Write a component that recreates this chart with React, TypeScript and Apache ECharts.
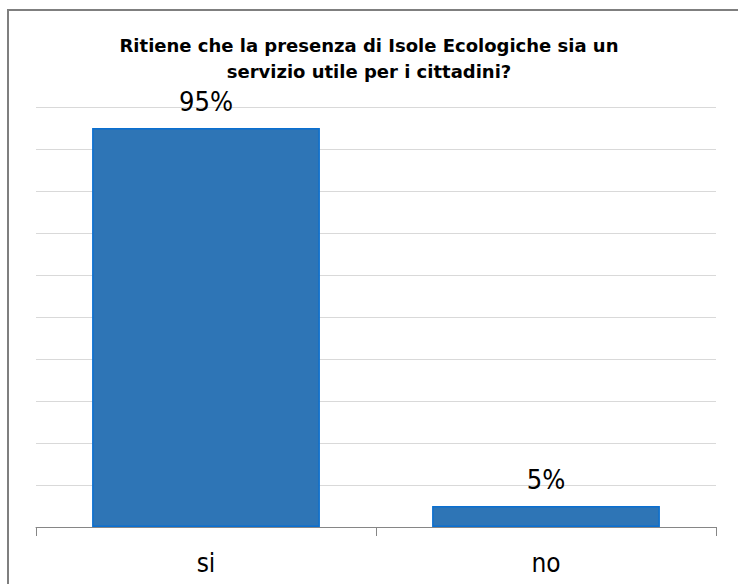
import React, { useEffect, useRef } from "react";
import * as echarts from "echarts";

const titleText = "Ritiene che la presenza di Isole Ecologiche sia un\nservizio utile per i cittadini?";
const categories = ["si", "no"];
const values = [95, 5];
const yMin = 0;
const yMax = 100;
const yInterval = 10;

export default function App() {
  const ref = useRef<HTMLDivElement>(null);
  useEffect(() => {
    if (!ref.current) return;
    const chart = echarts.init(ref.current, null, { renderer: "svg" });
    const font = "'DejaVu Sans Condensed', 'DejaVu Sans', sans-serif";
    chart.setOption({
      animation: false,
      backgroundColor: "#ffffff",
      title: {
        text: titleText,
        left: "center",
        top: 32,
        padding: 0,
        textStyle: {
          fontFamily: "'DejaVu Sans', sans-serif",
          fontWeight: "bold",
          fontSize: 18,
          lineHeight: 26,
          color: "#000000",
          align: "center",
        },
      },
      graphic: [
        {
          type: "rect",
          shape: { x: 8, y: 10, width: 800, height: 800 },
          style: { fill: "none", stroke: "#7f7f7f", lineWidth: 2 },
          silent: true,
          z: 0,
        },
      ],
      grid: { left: 36, right: 22, top: 107, bottom: 57, containLabel: false },
      xAxis: {
        type: "category",
        data: categories,
        z: 5,
        axisLine: { show: true, lineStyle: { color: "#868686", width: 1 } },
        axisTick: { show: true, length: 9, lineStyle: { color: "#868686" } },
        axisLabel: {
          fontFamily: font,
          fontSize: 26,
          lineHeight: 26,
          color: "#000000",
          margin: 23,
        },
        splitLine: { show: false },
      },
      yAxis: {
        type: "value",
        min: yMin,
        max: yMax,
        interval: yInterval,
        axisLine: { show: false },
        axisTick: { show: false },
        axisLabel: { show: false },
        splitLine: { show: true, lineStyle: { color: "#d9d9d9", width: 1 } },
      },
      series: [
        {
          type: "bar",
          data: values,
          barCategoryGap: "33%",
          itemStyle: {
            color: "#2e75b6",
            borderColor: "#0a6fd0",
            borderWidth: 1.5,
          },
          label: {
            show: true,
            position: "top",
            distance: 13,
            formatter: "{c}%",
            fontFamily: font,
            fontSize: 27,
            lineHeight: 27,
            color: "#000000",
          },
        },
      ],
    });
    return () => chart.dispose();
  }, []);
  return (
    <div
      ref={ref}
      style={{ position: "absolute", left: 0, top: 0, width: 738, height: 584 }}
    />
  );
}
